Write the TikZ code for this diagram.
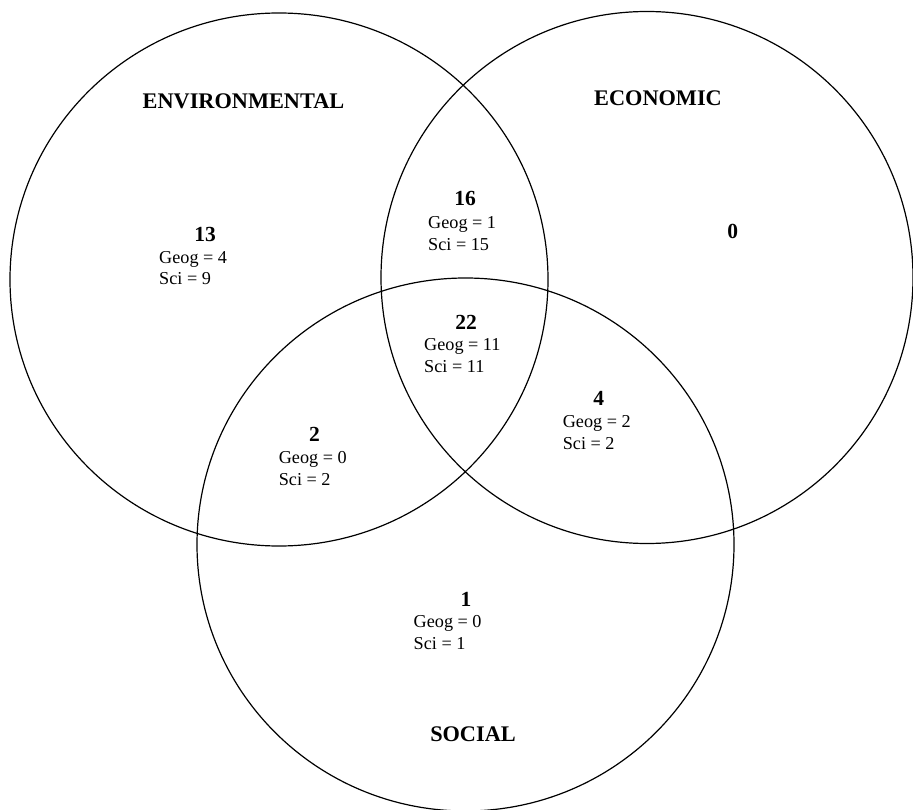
\documentclass[tikz,border=0pt]{standalone}
\usepackage{fontspec}
\setmainfont{Liberation Serif}
\begin{document}
\begin{tikzpicture}[x=1pt,y=-1pt,
  ring/.style={draw=black,line width=1.2pt},
  setlabel/.style={inner sep=0pt,anchor=base,font=\fontsize{22.3}{26}\selectfont\bfseries},
  count/.style={inner sep=0pt,anchor=base,font=\fontsize{21.5}{25}\selectfont\bfseries},
  detail/.style={inner sep=0pt,anchor=base west,font=\fontsize{18.2}{21.5}\selectfont}]
\useasboundingbox (0,0) rectangle (913,810);
% circles
\draw[ring] (279,279.5) ellipse [x radius=269, y radius=266.5];
\draw[ring] (647,277.5) ellipse [x radius=266, y radius=266];
\draw[ring] (465.5,544.5) ellipse [x radius=268.5, y radius=266.5];
% set labels
\node[setlabel] (envlab) at (243.5,108.5) {ENVIRONMENTAL};
\node[setlabel] (ecolab) at (658,106) {ECONOMIC};
\node[setlabel] (soclab) at (473,741) {SOCIAL};
% environmental only
\node[count] (n13) at (205,242) {13};
\node[detail] (g13) at (159,263.5) {Geog = 4};
\node[detail] (s13) at (159,285) {Sci = 9};
% env & econ
\node[count] (n16) at (465,206) {16};
\node[detail] (g16) at (428,229) {Geog = 1};
\node[detail] (s16) at (428,250.5) {Sci = 15};
% economic only
\node[count] (n0) at (732.7,238.6) {0};
% all three
\node[count] (n22) at (466,330) {22};
\node[detail] (g22) at (424,351) {Geog = 11};
\node[detail] (s22) at (424,372.5) {Sci = 11};
% econ & social
\node[count] (n4) at (598.7,405.5) {4};
\node[detail] (g4) at (562.6,427.5) {Geog = 2};
\node[detail] (s4) at (562.6,449.5) {Sci = 2};
% env & social
\node[count] (n2) at (314.5,441) {2};
\node[detail] (g2) at (278.6,463) {Geog = 0};
\node[detail] (s2) at (278.6,485) {Sci = 2};
% social only
\node[count] (n1) at (466,606.5) {1};
\node[detail] (g1) at (413.5,627.5) {Geog = 0};
\node[detail] (s1) at (413.5,649.5) {Sci = 1};
\end{tikzpicture}
\end{document}
